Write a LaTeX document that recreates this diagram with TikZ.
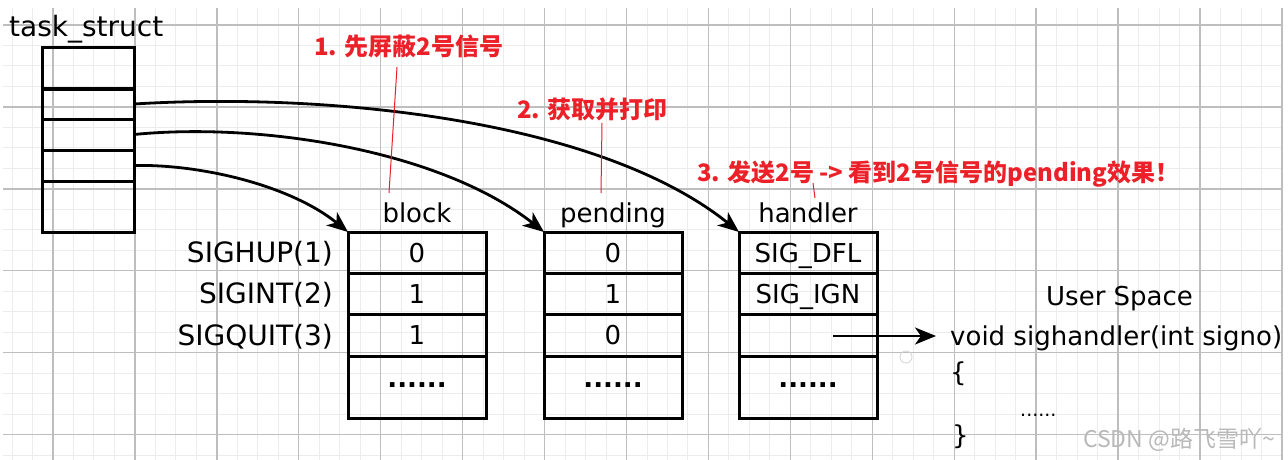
\documentclass[tikz,border=0pt]{standalone}
\usepackage{fontspec}
\setmainfont{DejaVu Sans}
\newfontfamily\cjk{Noto Sans CJK SC}
\usetikzlibrary{arrows.meta,calc}
\definecolor{redlbl}{RGB}{235,32,40}
\definecolor{gridmaj}{RGB}{190,190,190}
\definecolor{gridmin}{RGB}{236,236,236}
\definecolor{wmark}{RGB}{185,185,185}
\newcommand\fsz[1]{\fontsize{#1}{#1}\selectfont}
\begin{document}
\begin{tikzpicture}[x=1pt,y=-1pt,
  box/.style={draw=black, line width=3pt, minimum width=138pt, inner sep=0pt, outer sep=0pt,
              anchor=north west, font=\fsz{26}, text height=19pt, text depth=0pt},
  tsbox/.style={draw=black, line width=3pt, minimum width=92pt, inner sep=0pt, outer sep=0pt, anchor=north west},
  lbl/.style={inner sep=0pt, font=\fsz{26}},
  rowlbl/.style={inner sep=0pt, font=\fsz{28}, anchor=east, text height=20pt, text depth=0pt},
  redtxt/.style={inner sep=0pt, anchor=west, text=redlbl, font=\cjk\bfseries\fsz{24}, text height=21pt, text depth=3pt},
  redline/.style={draw=redlbl, line width=1pt},
  conn/.style={draw=black, line width=2.8pt, -{Stealth[length=21pt,width=17pt,inset=6pt]}},
  harrow/.style={draw=black, line width=2.4pt, -{Stealth[length=21pt,width=17pt,inset=6pt]}}
]
\useasboundingbox (0,0) rectangle (1288,460);
\fill[white] (0,0) rectangle (1288,460);
% grid
\begin{scope}
\clip (3,8) rectangle (1283,460);
\foreach \i in {-2,...,62} \draw[gridmin, line width=1pt] ({53+20.483*\i},8) -- ++(0,452);
\foreach \j in {-1,...,22} \draw[gridmin, line width=1pt] (3,{25+20.483*\j}) -- ++(1280,0);
\foreach \i in {0,...,15} \draw[gridmaj, line width=1.4pt] ({53+81.93*\i},8) -- ++(0,452);
\foreach \j in {0,...,5} \draw[gridmaj, line width=1.4pt] (3,{25+81.93*\j}) -- ++(1280,0);
\end{scope}
\draw[gridmaj!70, line width=0.8pt] (906,357) circle (6);

% task_struct
\node[lbl, font=\fsz{28}, anchor=base west] (tslbl) at (9,37) {task\_struct};
\node[tsbox, minimum height=41pt] (ts1) at (42,48) {};
\node[tsbox, minimum height=30pt] (ts2) at (42,89) {};
\node[tsbox, minimum height=31pt] (ts3) at (42,119) {};
\node[tsbox, minimum height=31pt] (ts4) at (42,150) {};
\node[tsbox, minimum height=51pt] (ts5) at (42,181) {};

% block
\node[box, minimum height=41pt] (b1) at (348,232) {0};
\node[box, minimum height=41pt] (b2) at (348,273) {1};
\node[box, minimum height=42pt] (b3) at (348,314) {1};
\node[box, minimum height=62pt] (b4) at (348,356) {};
\node[lbl, anchor=base] (b4d) at (b4.center) {\textbf{......}};
\node[lbl, anchor=base] (bh) at (417,222) {block};

% pending
\node[box, minimum height=41pt] (p1) at (544,232) {0};
\node[box, minimum height=41pt] (p2) at (544,273) {1};
\node[box, minimum height=42pt] (p3) at (544,314) {0};
\node[box, minimum height=62pt] (p4) at (544,356) {};
\node[lbl, anchor=base] (p4d) at (p4.center) {\textbf{......}};
\node[lbl, anchor=base] (ph) at (613,222) {pending};

% handler
\node[box, minimum height=41pt] (h1) at (739,232) {SIG\_DFL};
\node[box, minimum height=41pt] (h2) at (739,273) {SIG\_IGN};
\node[box, minimum height=42pt] (h3) at (739,314) {};
\node[box, minimum height=62pt] (h4) at (739,356) {};
\node[lbl, anchor=base] (h4d) at (h4.center) {\textbf{......}};
\node[lbl, anchor=base] (hh) at (808,222) {handler};

% row labels
\node[rowlbl] (r1) at ($(b1.west)+(-15,0)$) {SIGHUP(1)};
\node[rowlbl] (r2) at ($(b2.west)+(-15,0)$) {SIGINT(2)};
\node[rowlbl] (r3) at ($(b3.west)+(-15,0)$) {SIGQUIT(3)};

% connectors
\draw[conn] (ts2.east) .. controls (330,92) and (600,120) .. (h1.north west);
\draw[conn] (ts3.east) .. controls (260,122) and (440,150) .. (p1.north west);
\draw[conn] (ts4.east) .. controls (200,164) and (290,185) .. (b1.north west);

% user space
\node[lbl, anchor=base west] (us) at (1046,305) {User Space};
\node[lbl, anchor=base west] (code) at (950,345) {void sighandler(int signo)};
\node[lbl, anchor=base west] (ob) at (950,381) {\{};
\node[lbl, anchor=base west, font=\fsz{19}] (cd) at (1020,416) {......};
\node[lbl, anchor=base west] (cb) at (952,444) {\}};
\coordinate (hs) at ($(h3.center)+(25,1)$);
\coordinate (hend) at ($(hs -| code.west)+(-14,0)$);
\draw[harrow] (hs) -- (hend);

% red annotations
\node[redtxt] (t1) at (314,47) {1. 先屏蔽2号信号};
\node[redtxt] (t2) at (517,109) {2. 获取并打印};
\node[redtxt] (t3) at (697,172) {3. 发送2号 -> 看到2号信号的pending效果！};
\coordinate (r1a) at (397,67);
\coordinate (r1b) at (389,193);
\coordinate (r2a) at (602,123);
\coordinate (r2b) at (601,193);
\coordinate (r3a) at (813,183);
\coordinate (r3b) at (815,198);
\draw[redline] (r1a) -- (r1b);
\draw[redline] (r2a) -- (r2b);
\draw[redline] (r3a) -- (r3b);

% watermark
\node[inner sep=0pt, anchor=west, text=wmark, font=\cjk\fsz{23}] (wm) at (1083,440) {CSDN @路飞雪吖\textasciitilde};
\end{tikzpicture}
\end{document}
